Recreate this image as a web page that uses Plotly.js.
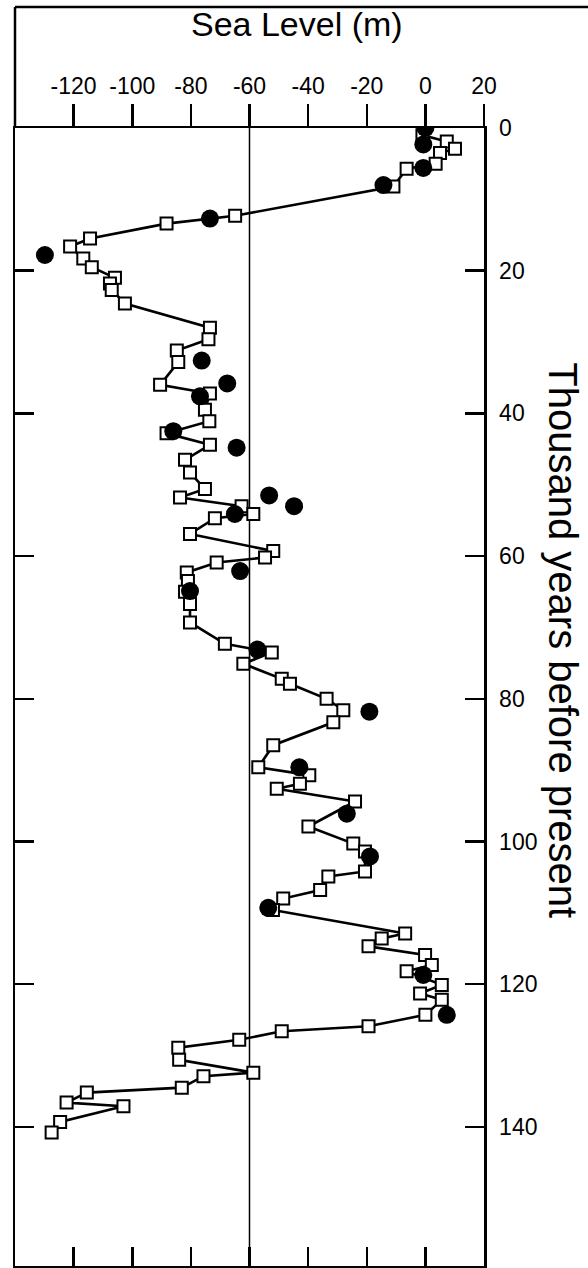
<!DOCTYPE html>
<html>
<head>
<meta charset="utf-8">
<script src="https://cdn.plot.ly/plotly-3.0.1.min.js"></script>
<style>
  html, body { margin: 0; padding: 0; background: #fff; }
  #chart { width: 588px; height: 1268px; }
</style>
</head>
<body>
<div id="chart"></div>
<script>
// Squares (connected curve): age in thousand years before present, sea level in m
const squareAge = [1.0, 1.9, 2.9, 3.5, 5.0, 5.7, 8.2, 12.3, 13.4, 15.5, 16.6, 18.3, 19.5, 21.0, 21.8, 22.7, 24.6, 28.0, 29.6, 31.2, 32.8,
  36.0, 37.2, 39.5, 41.1, 42.8, 44.4, 46.5, 48.3, 50.6, 51.8, 53.0, 54.1, 54.7, 56.9, 59.3, 60.2, 60.9, 62.3, 63.5, 65.0,
  66.7, 69.3, 72.3, 73.5, 75.1, 77.2, 77.9, 80.0, 81.6, 83.3, 86.5, 89.6, 90.7, 91.9, 92.6, 94.4, 97.9, 100.3, 101.4,
  104.2, 104.9, 106.8, 108.0, 109.6, 112.9, 113.6, 114.7, 115.9, 117.3, 118.2, 120.1, 121.3, 122.2, 124.3, 125.9, 126.6,
  127.8, 128.9, 130.6, 132.4, 132.9, 134.5, 135.2, 136.6, 137.1, 139.3, 140.8];
const squareLevel = [-1, 7.3, 10.1, 5.0, 3.5, -6.4, -10.9, -64.9, -88.3, -114.4, -121.2, -116.7, -113.8, -105.9, -107.6, -107.0, -102.5, -73.5, -74.0, -84.8, -84.3,
  -90.5, -73.5, -75.2, -73.7, -88.3, -73.5, -82.0, -80.3, -75.2, -83.7, -62.7, -58.7, -71.8, -80.3, -51.9, -54.7, -71.2, -81.4, -81.0, -82.0,
  -80.3, -80.3, -68.4, -52.4, -62.1, -49.0, -46.2, -33.7, -28.0, -31.4, -51.9, -57.0, -39.6, -42.8, -50.7, -24.0, -39.9, -24.6, -20.6,
  -20.6, -33.1, -35.9, -48.5, -52.0, -6.9, -14.9, -19.4, -0.1, 2.2, -6.4, 5.6, -1.8, 5.6, 0.0, -19.4, -49.0,
  -63.5, -84.3, -84.0, -58.7, -75.7, -83.1, -115.5, -122.4, -103.0, -124.6, -127.5];

// Filled dots
const dotAge = [0.0, 2.3, 5.6, 8.0, 12.7, 17.8, 32.6, 35.8, 37.6, 42.5, 44.8, 51.5, 53.0, 54.1, 62.1, 64.9, 73.1, 81.8, 89.6, 96.1, 102.1, 109.3, 118.7, 124.3];
const dotLevel = [0.0, -0.7, -0.7, -14.3, -73.5, -129.8, -76.3, -67.6, -76.9, -86.0, -64.4, -53.3, -44.8, -65.0, -63.2, -80.3, -57.3, -19.1, -43.0, -26.8, -18.9, -53.6, -0.7, 7.3];

// Axis ticks
const levelTicks = [-120, -100, -80, -60, -40, -20, 0, 20];
const levelTickText = ['-120', '-100', '-80', '-60', '-40', '-20', '0', '20'];
const ageTicks = [0, 20, 40, 60, 80, 100, 120, 140];
const ageTickText = ['0', '20', '40', '60', '80', '100', '120', '140'];
const referenceLevel = -60;

const FONT = 'Liberation Sans, Arial, Helvetica, sans-serif';
const levelRange = [-140, 20];
const ageRange = [159.5, 0];

const traces = [
  {
    type: 'scatter', mode: 'lines+markers',
    x: squareLevel, y: squareAge, xaxis: 'x', yaxis: 'y',
    line: { color: '#000', width: 2.6 },
    marker: { symbol: 'square', size: 12, color: '#fff', line: { color: '#000', width: 2 } },
    hoverinfo: 'x+y'
  },
  {
    type: 'scatter', mode: 'markers',
    x: dotLevel, y: dotAge, xaxis: 'x2', yaxis: 'y2',
    marker: { symbol: 'circle', size: 18, color: '#000', line: { color: '#000', width: 0 } },
    hoverinfo: 'x+y'
  }
];

const layout = {
  width: 588, height: 1268,
  margin: { l: 15, r: 104, t: 128, b: 2, pad: 0 },
  paper_bgcolor: '#fff', plot_bgcolor: '#fff',
  showlegend: false,
  font: { family: FONT, color: '#000' },
  xaxis: {
    range: levelRange, side: 'top', anchor: 'y',
    tickmode: 'array', tickvals: levelTicks, ticktext: levelTickText,
    ticks: 'outside', ticklen: 22, tickwidth: 2.5, tickcolor: '#000',
    showline: true, linewidth: 2.5, linecolor: '#000',
    showgrid: false, zeroline: false,
    tickfont: { family: FONT, size: 23, color: '#000' },
    ticklabelstandoff: 0,
    fixedrange: true
  },
  xaxis2: {
    range: levelRange, side: 'bottom', anchor: 'y2', overlaying: 'x',
    tickmode: 'array', tickvals: levelTicks,
    ticks: 'inside', ticklen: 19, tickwidth: 2.5, tickcolor: '#000',
    showticklabels: false,
    showline: true, linewidth: 2.5, linecolor: '#000',
    showgrid: false, zeroline: false, fixedrange: true
  },
  yaxis: {
    range: ageRange, side: 'right', anchor: 'x',
    tickmode: 'array', tickvals: ageTicks, ticktext: ageTickText,
    ticks: 'inside', ticklen: 19, tickwidth: 2.5, tickcolor: '#000',
    showline: true, linewidth: 2.5, linecolor: '#000',
    showgrid: false, zeroline: false,
    tickfont: { family: FONT, size: 23, color: '#000' },
    ticklabelstandoff: 8,
    fixedrange: true
  },
  yaxis2: {
    range: ageRange, side: 'left', anchor: 'x2', overlaying: 'y',
    tickmode: 'array', tickvals: ageTicks,
    ticks: 'inside', ticklen: 19, tickwidth: 2.5, tickcolor: '#000',
    showticklabels: false,
    showline: true, linewidth: 2.5, linecolor: '#000',
    showgrid: false, zeroline: false, fixedrange: true
  },
  shapes: [
    { type: 'line', xref: 'x', yref: 'paper', x0: referenceLevel, x1: referenceLevel, y0: 0, y1: 1,
      line: { color: '#000', width: 1.5 }, layer: 'below' },
    { type: 'line', xref: 'paper', yref: 'paper', x0: 0, x1: 1.23, y0: 1.1063, y1: 1.1063,
      line: { color: '#000', width: 2.5 } },
    { type: 'line', xref: 'paper', yref: 'paper', x0: 0, x1: 0, y0: 1, y1: 1.1063,
      line: { color: '#000', width: 2.5 } }
  ],
  annotations: [
    { text: 'Sea Level (m)', xref: 'paper', yref: 'paper', x: 0.601, y: 1.091,
      xanchor: 'center', yanchor: 'middle', showarrow: false,
      font: { family: FONT, size: 34, color: '#000' } },
    { text: 'Thousand years before present', xref: 'paper', yref: 'paper', x: 1.168, y: 0.55,
      xanchor: 'center', yanchor: 'middle', showarrow: false, textangle: 90,
      font: { family: FONT, size: 40, color: '#000' } }
  ]
};

Plotly.newPlot('chart', traces, layout, { staticPlot: true, displayModeBar: false });
</script>
</body>
</html>
